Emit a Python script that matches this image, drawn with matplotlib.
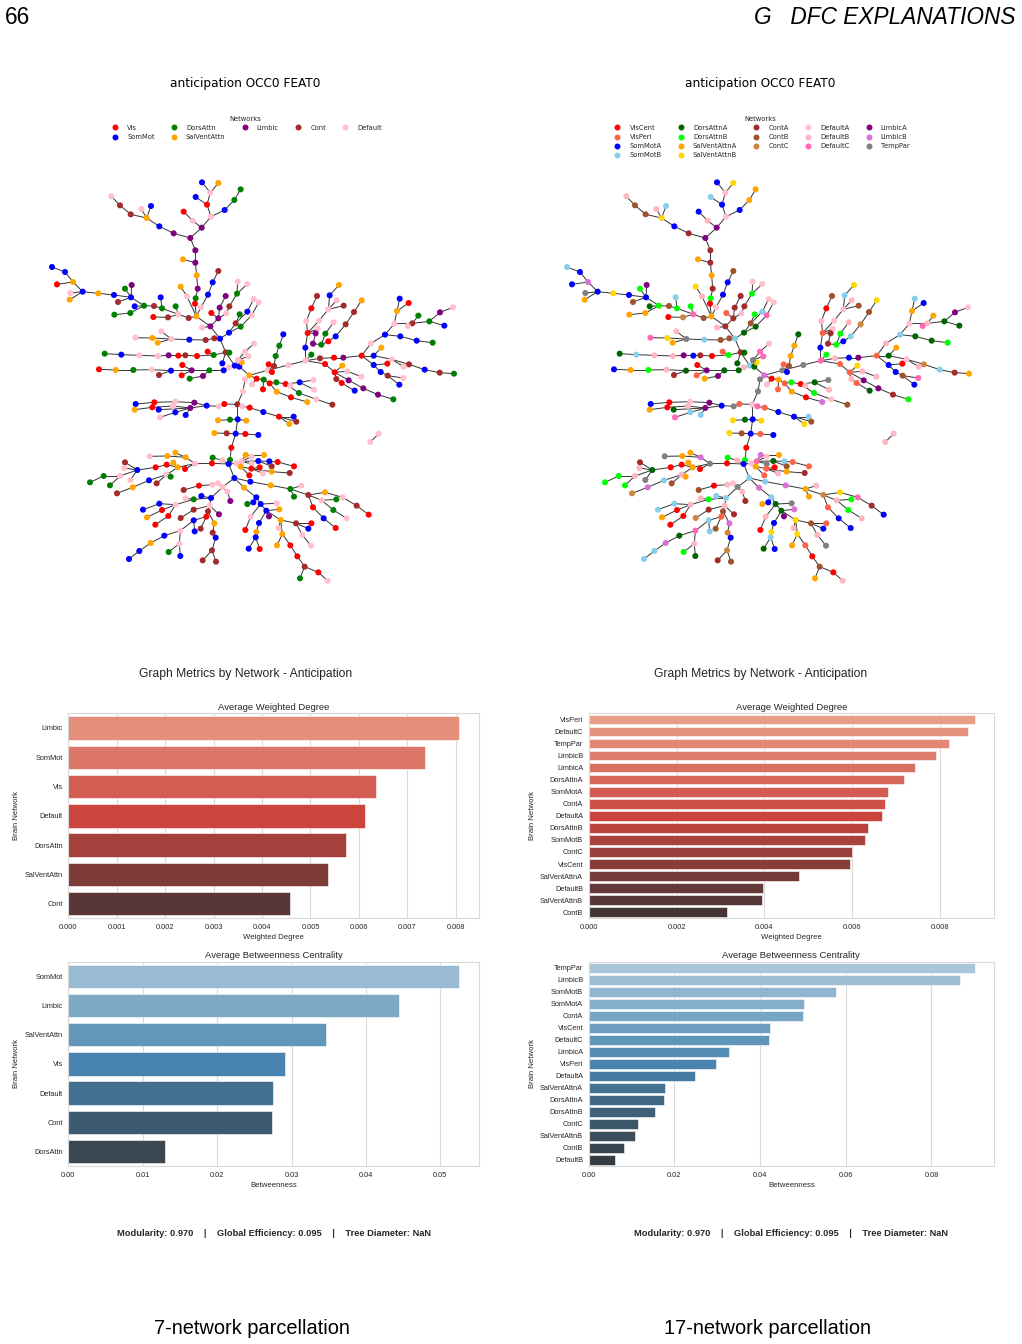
import matplotlib
matplotlib.use('Agg')
import matplotlib.pyplot as plt
from matplotlib.collections import LineCollection
from matplotlib.lines import Line2D
import seaborn as sns

W, H = 1022, 1344

# tree layout, one entry per node (the same layout is used by both parcellations)
node_x = [
    481, 515, 543, 531, 541, 516, 565, 497, 584, 613,
    632, 488, 461, 431, 388, 350, 334, 363, 302, 270,
    244, 496, 496, 459, 500, 503, 497, 495, 499, 452,
    471, 513, 534, 548, 565, 476, 445, 437, 396, 392,
    372, 342, 314, 301, 253, 303, 285, 305, 264, 252,
    205, 158, 121, 119, 129, 81, 105, 66, 414, 370,
    541, 516, 565, 544, 569, 587, 589, 598, 621, 623,
    652, 570, 597, 617, 629, 652, 671, 632, 665, 686,
    553, 527, 478, 424, 394, 383, 367, 316, 587, 598,
    533, 551, 501, 466, 445, 416, 384, 328, 274, 224,
    614, 577, 597, 581, 538, 519, 479, 485, 457, 455,
    423, 387, 365, 310, 257, 207, 628, 658, 635, 624,
    645, 655, 672, 645, 639, 622, 666, 680, 701, 699,
    719, 740, 783, 832, 739, 767, 809, 850, 852, 807,
    859, 907, 712, 726, 732, 716, 737, 748, 760, 775,
    827, 781, 844, 826, 833, 829, 844, 861, 867, 895,
    899, 927, 920, 941, 863, 857, 849, 874, 895, 886,
    911, 917, 947, 972, 995, 870, 912, 940, 995, 1023,
    1065, 1093, 1101, 1109, 1136, 1147, 1133, 1165, 1198, 1230,
    1269, 1243, 1111, 1160, 1208, 1031, 1054, 1085, 1137, 1121,
    1184, 1229, 1272, 1031, 1072, 1052, 1073, 1120, 1108, 885,
    914, 937, 952, 994, 919, 935, 974, 956, 1000, 1044,
    1090, 583, 566, 530, 493, 436, 373, 317, 481, 429,
    367, 314, 436, 390, 467, 386, 637, 659, 700, 747,
    791, 778, 799, 623, 600, 564, 649, 617, 590, 553,
    646, 685, 604, 600, 596, 577, 548, 546, 495, 467,
    436, 412, 359, 465, 443, 430, 410, 377, 322, 285,
    283, 270, 221, 180, 240, 301, 410, 422, 380, 357,
    308, 261, 619, 635, 647, 702, 665, 665, 685, 718,
    743, 792, 725, 632, 658, 664, 689, 699, 725, 779,
    613, 578, 564, 547, 507, 461, 592, 601, 543, 514,
    491, 467, 437, 388, 339, 396, 351, 415, 376, 539,
    491, 452, 567, 534, 529, 512, 491, 494, 451, 403,
    362, 328, 297, 448, 416, 451, 553, 548, 557, 546,
    518, 558, 642, 679, 692, 670, 652, 740, 709, 748,
    717, 662, 646, 687, 679, 677, 656, 689, 752, 746,
    798, 844, 835, 817, 843, 757, 741, 781, 802, 824,
    810, 865, 893, 661, 722, 781, 792, 814, 835, 885,
    938, 980, 1016, 875, 919, 910, 950, 849, 881, 917,
    1046, 1021,
]
node_y = [
    414, 383, 350, 314, 278, 247, 249, 291, 330, 300,
    268, 362, 335, 400, 379, 354, 327, 318, 343, 316,
    289, 451, 488, 478, 526, 566, 595, 611, 649, 560,
    589, 622, 584, 547, 513, 654, 643, 619, 625, 592,
    618, 617, 619, 639, 644, 592, 566, 555, 606, 585,
    580, 575, 579, 599, 546, 553, 516, 501, 652, 651,
    679, 683, 655, 639, 623, 588, 640, 619, 581, 545,
    552, 716, 698, 670, 643, 635, 597, 680, 646, 607,
    715, 720, 719, 717, 694, 728, 714, 713, 757, 758,
    755, 765, 768, 766, 767, 766, 768, 766, 764, 761,
    797, 790, 802, 811, 811, 828, 836, 811, 795, 826,
    812, 825, 809, 810, 810, 808, 800, 826, 787, 780,
    755, 769, 731, 838, 874, 913, 853, 836, 839, 868,
    850, 875, 892, 906, 847, 852, 847, 840, 869, 879,
    898, 914, 811, 816, 798, 793, 768, 737, 703, 795,
    782, 857, 764, 743, 699, 663, 625, 588, 662, 628,
    586, 555, 601, 617, 686, 700, 731, 734, 724, 701,
    667, 709, 673, 636, 601, 775, 773, 773, 767, 730,
    704, 671, 633, 596, 609, 670, 678, 647, 664, 637,
    622, 677, 709, 722, 728, 767, 743, 778, 793, 800,
    809, 818, 821, 795, 791, 816, 827, 834, 854, 792,
    817, 797, 814, 830, 837, 849, 872, 841, 865, 884,
    898, 912, 919, 917, 908, 905, 907, 912, 924, 918,
    922, 929, 937, 952, 945, 929, 919, 923, 936, 950,
    950, 972, 965, 958, 959, 961, 962, 1001, 1000, 999,
    1002, 1005, 1043, 1080, 1092, 1081, 1073, 1090, 1091, 1072,
    1058, 1068, 1069, 1107, 1102, 1088, 1094, 1102, 1110, 1087,
    1104, 1128, 1128, 1147, 1156, 1140, 1124, 1130, 1150, 1141,
    1162, 1180, 1090, 1084, 1065, 1065, 1070, 1092, 1083, 1084,
    1086, 1099, 1099, 1100, 1126, 1106, 1102, 1120, 1115, 1119,
    1134, 1161, 1150, 1154, 1157, 1170, 1175, 1203, 1194, 1188,
    1198, 1195, 1214, 1211, 1229, 1230, 1252, 1248, 1274, 1217,
    1229, 1254, 1243, 1234, 1250, 1286, 1261, 1294, 1292, 1307,
    1329, 1353, 1377, 1331, 1356, 1368, 1270, 1298, 1313, 1351,
    1381, 1385, 1163, 1192, 1212, 1207, 1212, 1210, 1232, 1228,
    1249, 1250, 1290, 1269, 1296, 1312, 1346, 1347, 1260, 1284,
    1270, 1270, 1286, 1305, 1337, 1302, 1336, 1336, 1369, 1400,
    1435, 1417, 1442, 1145, 1156, 1167, 1190, 1157, 1185, 1177,
    1192, 1217, 1244, 1201, 1198, 1230, 1255, 1222, 1255, 1284,
    1001, 1026,
]
# parent node of each node, -1 for a component root
node_parent = [
    -1, 0, 1, 2, 3, 4, 4, 3, 2, 8,
    9, 1, 11, 0, 13, 14, 15, 15, 15, 18,
    19, 0, 21, 22, 22, 24, 25, 26, 27, 30,
    28, 28, 31, 32, 33, 28, 35, 36, 36, 38,
    38, 40, 41, 41, 43, 41, 45, 45, 45, 45,
    49, 50, 51, 51, 51, 54, 54, 56, 36, 58,
    28, 60, 60, 62, 62, 64, 62, 66, 67, 68,
    68, 60, 71, 72, 73, 73, 75, 72, 77, 78,
    71, 80, 81, 82, 83, 83, 83, 86, 71, 88,
    91, 88, 91, 92, 93, 94, 95, 96, 97, 98,
    88, 88, 100, 102, 103, 104, 105, 104, 107, 107,
    107, 110, 110, 112, 113, 114, 100, 116, 100, 100,
    119, 119, 120, 117, 123, 124, 127, 117, 127, 128,
    128, 130, 131, 132, 130, 134, 135, 136, 136, 135,
    139, 140, 117, 142, 142, 144, 144, 146, 147, 142,
    149, 135, 150, 150, 153, 154, 155, 156, 154, 158,
    159, 160, 159, 159, 154, 154, 165, 166, 167, 167,
    169, 168, 171, 172, 173, 150, 175, 176, 177, 178,
    179, 180, 181, 182, 182, 181, 185, 185, 185, 188,
    189, 188, 180, 192, 193, 178, 195, 195, 197, 197,
    198, 200, 201, 178, 203, 203, 205, 206, 206, 150,
    209, 210, 210, 212, 210, 214, 215, 210, 217, 218,
    219, 125, 221, 222, 223, 224, 225, 226, 223, 228,
    229, 230, 228, 232, 228, 228, 125, 236, 237, 238,
    239, 239, 239, 125, 243, 244, 243, 243, 247, 248,
    247, 250, 247, 252, 253, 254, 255, 254, 257, 258,
    259, 259, 261, 258, 258, 264, 264, 266, 267, 268,
    268, 268, 271, 272, 271, 268, 264, 276, 276, 276,
    279, 280, 254, 282, 283, 284, 283, 283, 283, 288,
    289, 290, 288, 282, 293, 293, 295, 295, 295, 298,
    254, 300, 301, 302, 303, 304, 301, 306, 301, 308,
    308, 310, 310, 312, 313, 312, 315, 312, 317, 308,
    319, 320, 319, 319, 323, 324, 324, 326, 326, 328,
    329, 330, 331, 328, 333, 333, 323, 336, 337, 338,
    339, 339, 300, 342, 343, 343, 345, 344, 344, 348,
    348, 344, 351, 348, 353, 354, 355, 355, 348, 358,
    358, 360, 360, 360, 363, 358, 365, 365, 367, 368,
    369, 369, 371, 300, 373, 374, 375, 375, 375, 378,
    379, 380, 381, 378, 383, 383, 385, 378, 387, 388,
    -1, 390,
]
# network of each node, short codes
nodes_7 = """
L L F V F S A S S D
D F V L S A F S C C
F L L A A L D V A A
F F S S C C F D D S
C D S D D S D L C S
A S F A A V S S C V
L F L V L L F C D F
F S S C D S F D F F
C C S F F A A F C D
V D V C V L F F S D
S S F S D L D L V V
S C F D A V S A A F
F F F F F C F V D V
V A V A D V S F F D
F C F V C V D D S F
F F D S V F V C F F
S A F C F L L D V D
F S C C A C V L V F
S F A S V C F D D L
F S S S D S A F C F
S C D S V S C F S V
V A F F C V S L L L
D V F S L F V S L F
V A S F S S F V S V
S A C S D A A S C A
V S V D S F D V F A
A A F V A A V V S C
F F D D D F F D C S
A C F F A A F F S S
V V C A V V V F A C
S F F F V C F L S S
D F F S S V A V V F
C C L C V C S S F S
A S S F D S A C S C
C C A S S S D F S A
L F V S A S S V A F
C V S F F A A V V C
D V F S A D D F C A
F C V F D D F V S V
F F
""".split()
nodes_17 = """
LA LA FA SA FA SA AB SB SA AA
AA FB SA CA SA AB FB SB CB CB
FB CA CA AA AA CA DB VC AA AB
FB FA SA SA CB CB FC DB DB SB
CB DB DA AA AA SA DB LA CB SA
AB SA TP AA LB SA SA SB CC VC
CA FB CA VP CA CA FA CA DB FA
FA SB DA CB DB SB FA DA FC FA
CB CB SB TP FB AA AB FC CA DA
VP DB VC CA SA LA FB FB SB DA
SB DA FB DA DA LA AA LA VC VP
DA CA FB DB AA SA DA LB AB TP
FC FC FA TP TP FA FA VC AA VP
VP AA VC LB DB VC DA TP FB DB
FA CB TP SA CB VP AA AA DA TP
FC FB DB SA VP FB VC CB FA FA
SB AB FB CB FA CA CA DB SA DB
FB SB CC CB AB FB SA LA VP FB
SB FA AA SB SA FB FC AA DA LA
FA DA DA DA DB DA AA FA CC FB
SB CA AA SA VC SA CB FC SA VP
VP AB FB FB FB VP DA LA LA CA
DB VP TP SA LA FA VC SA LA FB
VC AA SB FC SB DA FC VP SA SA
SB AB CB SA DA AB AB SA CB AB
VP SA VC DB SA FB DB VC TP LB
AA AA TP VC AA AA VC VC DA CA
FB FB DB DB DB TP FB AA CB SB
LB CC FA FC LB AA FA TP DA SB
VP VP CB AA VP VP VC FB AA CA
SB TP FA FB VC CB FB CA SB SB
DB FB FB SB SB VC AA VC VC FB
CA CC CA CB VP CB SB SB FC DA
LB SB SB FB DB DA LB CC SA CC
CA CB LB SB DA SA AA TP DA LB
LA FB VC SA AB SB DA SA AB FB
CB VP SA FB TP AB AA VP VC CB
AA VC FB SB LB AA AA FB CC AB
FC CA SA FB DB DB FB VP SA SA
FB FB
""".split()

codes_7 = ['V', 'S', 'D', 'A', 'L', 'C', 'F']
names_7 = ['Vis', 'SomMot', 'DorsAttn', 'SalVentAttn', 'Limbic', 'Cont', 'Default']
colors_7 = ['red', 'blue', 'green', 'orange', 'purple', 'brown', 'pink']

codes_17 = ['VC', 'VP', 'SA', 'SB', 'DA', 'DB', 'AA', 'AB', 'CA', 'CB', 'CC',
            'FA', 'FB', 'FC', 'LA', 'LB', 'TP']
names_17 = ['VisCent', 'VisPeri', 'SomMotA', 'SomMotB', 'DorsAttnA', 'DorsAttnB',
            'SalVentAttnA', 'SalVentAttnB', 'ContA', 'ContB', 'ContC',
            'DefaultA', 'DefaultB', 'DefaultC', 'LimbicA', 'LimbicB', 'TempPar']
colors_17 = ['red', 'tomato', 'blue', 'skyblue', 'darkgreen', 'lime', 'orange', 'gold',
             'brown', 'sienna', 'peru', 'pink', 'lightpink', 'hotpink', 'purple',
             'orchid', 'gray']

# bar chart values
degree_names_7 = ['Limbic', 'SomMot', 'Vis', 'Default', 'DorsAttn', 'SalVentAttn', 'Cont']
degree_vals_7 = [0.00807, 0.00736, 0.00635, 0.00612, 0.00574, 0.00536, 0.00458]
between_names_7 = ['SomMot', 'Limbic', 'SalVentAttn', 'Vis', 'Default', 'Cont', 'DorsAttn']
between_vals_7 = [0.0525, 0.0444, 0.0347, 0.0291, 0.02753, 0.02735, 0.01294]

degree_names_17 = ['VisPeri', 'DefaultC', 'TempPar', 'LimbicB', 'LimbicA', 'DorsAttnA',
                   'SomMotA', 'ContA', 'DefaultA', 'DorsAttnB', 'SomMotB', 'ContC',
                   'VisCent', 'SalVentAttnA', 'DefaultB', 'SalVentAttnB', 'ContB']
degree_vals_17 = [0.00879, 0.00864, 0.00820, 0.00792, 0.00742, 0.00719, 0.00682, 0.00674,
                  0.00668, 0.00635, 0.00629, 0.00600, 0.00596, 0.00479, 0.00397, 0.00394,
                  0.00316]
between_names_17 = ['TempPar', 'LimbicB', 'SomMotB', 'SomMotA', 'ContA', 'VisCent',
                    'DefaultC', 'LimbicA', 'VisPeri', 'DefaultA', 'SalVentAttnA',
                    'DorsAttnA', 'DorsAttnB', 'ContC', 'SalVentAttnB', 'ContB', 'DefaultB']
between_vals_17 = [0.0901, 0.0867, 0.0578, 0.0503, 0.04996, 0.0423, 0.0421, 0.0327, 0.0297,
                   0.0249, 0.0179, 0.0175, 0.01556, 0.0116, 0.0109, 0.00817, 0.00615]

sns.set_style('whitegrid')
plt.rcParams['font.family'] = ['Liberation Sans', 'DejaVu Sans']
plt.rcParams['text.color'] = '.15'

fig = plt.figure(figsize=(W / 100, H / 100), dpi=100, facecolor='white')


def px_axes(x0, y0, x1, y1):
    # axes from pixel box, y measured from the top of the page
    return fig.add_axes([x0 / W, 1 - y1 / H, (x1 - x0) / W, (y1 - y0) / H])


def px_text(x, y, s, **kw):
    kw.setdefault('ha', 'center')
    kw.setdefault('va', 'center')
    return fig.text(x / W, 1 - y / H, s, **kw)


def draw_tree(dx, labels, codes, names, colors):
    # layout units are 3 per pixel, offset to this panel's origin
    x0, x1, y0, y1 = dx, dx + 500, 100, 640
    ax = px_axes(x0, y0, x1, y1)
    ax.set_xlim((x0 - 30 - dx) * 3, (x1 - 30 - dx) * 3)
    ax.set_ylim((y1 - 100) * 3, (y0 - 100) * 3)
    ax.axis('off')
    segs = [[(node_x[i], node_y[i]), (node_x[p], node_y[p])]
            for i, p in enumerate(node_parent) if p >= 0]
    ax.add_collection(LineCollection(segs, colors='#333333', linewidths=0.7, zorder=1))
    lookup = dict(zip(codes, colors))
    ax.scatter(node_x, node_y, s=19, c=[lookup[c] for c in labels], linewidths=0, zorder=2)
    handles = [Line2D([], [], marker='o', ls='none', color=c, markersize=4.3, markeredgewidth=0)
               for c in colors]
    leg = fig.legend(handles, names, title='Networks', ncol=5, frameon=False,
                     loc='upper center', bbox_to_anchor=((dx + 245) / W, 1 - 111 / H),
                     prop={'family': 'DejaVu Sans', 'size': 4.9},
                     title_fontproperties={'family': 'DejaVu Sans', 'size': 4.9},
                     labelspacing=0.45, columnspacing=1.8, handletextpad=0.8,
                     borderpad=0.2, handlelength=2.0)
    for t in leg.get_texts():
        t.set_color('#262626')
    px_text(dx + 245, 83, 'anticipation OCC0 FEAT0', family='DejaVu Sans',
            fontsize=8.7, color='black')


def draw_bars(box, names, vals, xmax, palette, title, xlabel, ticks, fmt, ylabel_gap):
    ax = px_axes(*box)
    sns.barplot(x=vals, y=names, hue=names, palette=palette, legend=False,
                orient='h', edgecolor='white', linewidth=0.4, ax=ax)
    ax.set_xlim(0, xmax)
    ax.set_xticks(ticks)
    ax.set_xticklabels([fmt % t for t in ticks])
    ax.set_ylabel('Brain Network', fontsize=5.6, color='.15')
    ax.yaxis.set_label_coords(-ylabel_gap / (box[2] - box[0]), 0.5)
    ax.set_xlabel(xlabel, fontsize=5.6, color='.15', labelpad=2.6)
    ax.set_title(title, fontsize=6.8, color='.15', pad=2.5)
    ax.tick_params(axis='both', labelsize=5.3, length=0, pad=4, labelcolor='.15')
    ax.grid(True, axis='x', color='.85', linewidth=0.8)
    ax.grid(False, axis='y')
    for s in ax.spines.values():
        s.set_color('.85')
        s.set_linewidth(0.8)


draw_tree(0, nodes_7, codes_7, names_7, colors_7)
draw_tree(515, nodes_17, codes_17, names_17, colors_17)

deg_ticks_7 = [0, 0.001, 0.002, 0.003, 0.004, 0.005, 0.006, 0.007, 0.008]
btw_ticks_7 = [0, 0.01, 0.02, 0.03, 0.04, 0.05]
deg_ticks_17 = [0, 0.002, 0.004, 0.006, 0.008]
btw_ticks_17 = [0, 0.02, 0.04, 0.06, 0.08]

draw_bars((68.3, 713.3, 479, 918.3), degree_names_7, degree_vals_7, 0.00848, 'Reds_d',
          'Average Weighted Degree', 'Weighted Degree', deg_ticks_7, '%.3f', 48)
draw_bars((68.3, 961.7, 479, 1166), between_names_7, between_vals_7, 0.0552, 'Blues_d',
          'Average Betweenness Centrality', 'Betweenness', btw_ticks_7, '%.2f', 48)
draw_bars((588.7, 713.3, 994, 918.3), degree_names_17, degree_vals_17, 0.00923, 'Reds_d',
          'Average Weighted Degree', 'Weighted Degree', deg_ticks_17, '%.3f', 52.5)
draw_bars((588.7, 961.7, 994, 1166), between_names_17, between_vals_17, 0.0946, 'Blues_d',
          'Average Betweenness Centrality', 'Betweenness', btw_ticks_17, '%.2f', 52.5)

metrics = 'Modularity: 0.970    |    Global Efficiency: 0.095    |    Tree Diameter: NaN'
for cx_head, cx_foot in [(246, 274), (761, 791)]:
    px_text(cx_head, 673.5, 'Graph Metrics by Network - Anticipation', fontsize=8.7, color='.15')
    px_text(cx_foot, 1233, metrics, fontsize=6.65, fontweight='bold', color='.15')

# page furniture around the two panels
px_text(5, 18, '66', ha='left', family='Liberation Sans', fontsize=16.3, color='black')
px_text(1016, 18, 'G   DFC EXPLANATIONS', ha='right', family='Liberation Sans', style='italic',
        fontsize=16.3, color='black')
px_text(252, 1328, '7-network parcellation', family='Liberation Sans', fontsize=14.4, color='black')
px_text(767, 1328, '17-network parcellation', family='Liberation Sans', fontsize=14.4, color='black')

fig.savefig('out.png', dpi=100)
